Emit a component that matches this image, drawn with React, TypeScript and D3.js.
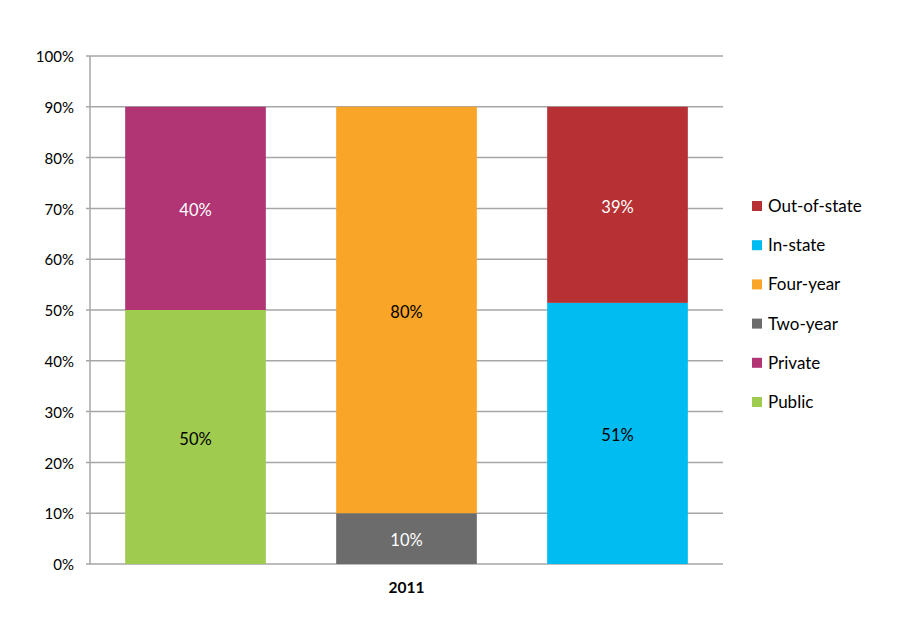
import React from "react";
import * as d3 from "d3";

const categories = ["2011"];
const stacks = ["Type", "Length", "Residency"];
const seriesNames = ["Public", "Private", "Two-year", "Four-year", "In-state", "Out-of-state"];
const seriesStack = ["Type", "Type", "Length", "Length", "Residency", "Residency"];
const seriesValues = [50, 40, 10, 80, 51.4, 38.6];
const seriesColors = ["#9fcb4f", "#b13574", "#6c6c6c", "#f9a527", "#00bcf1", "#b73134"];
const labelColors = ["#000", "#fff", "#fff", "#000", "#000", "#fff"];
const yTicks = [0, 10, 20, 30, 40, 50, 60, 70, 80, 90, 100];

export default function App() {
  const W = 900, H = 625;
  const left = 90, right = 723, top = 56, bottom = 564;
  const y = d3.scaleLinear().domain([0, 100]).range([bottom, top]);
  const x = d3.scaleBand().domain(stacks).range([left, right]).paddingInner(1 / 3).paddingOuter(1 / 6);
  const font = "Lato, 'Open Sans', sans-serif";

  const rects: any[] = [];
  const cum: Record<string, number> = {};
  seriesNames.forEach((n, i) => {
    const s = seriesStack[i];
    const base = cum[s] || 0;
    const v = seriesValues[i];
    cum[s] = base + v;
    rects.push({ n, i, x0: x(s)!, w: x.bandwidth(), y0: y(base + v), y1: y(base), v });
  });

  const legendOrder = [...seriesNames.keys()].reverse();

  return (
    <svg width={W} height={H} style={{ position: "absolute", left: 0, top: 0, fontFamily: font }}>
      <rect width={W} height={H} fill="#fff" />
      {yTicks.map((t) => (
        <g key={t}>
          <line x1={left - 4} x2={right} y1={y(t)} y2={y(t)} stroke="#a6a6a6" strokeWidth={1.5} />
          <text x={74} y={y(t) + 1} dy="0.35em" textAnchor="end" fontSize={15} fill="#000">{t}%</text>
        </g>
      ))}
      <line x1={left} x2={left} y1={top} y2={bottom} stroke="#a6a6a6" strokeWidth={1.5} />
      {rects.map((r) => (
        <g key={r.n}>
          <rect x={r.x0} y={r.y0} width={r.w} height={r.y1 - r.y0} fill={seriesColors[r.i]} />
          <text x={r.x0 + r.w / 2} y={(r.y0 + r.y1) / 2 + 2} dy="0.35em" textAnchor="middle" fontSize={16.5} fill={labelColors[r.i]}>
            {Math.round(r.v)}%
          </text>
        </g>
      ))}
      <text x={(left + right) / 2} y={588} dy="0.35em" textAnchor="middle" fontSize={15.5} fontWeight="bold">{categories[0]}</text>
      {legendOrder.map((i, k) => (
        <g key={i} transform={`translate(752, ${206 + k * 39.2})`}>
          <rect x={0} y={-5} width={10} height={10} fill={seriesColors[i]} />
          <text x={16} y={0} dy="0.35em" fontSize={17} fill="#000">{seriesNames[i]}</text>
        </g>
      ))}
    </svg>
  );
}
